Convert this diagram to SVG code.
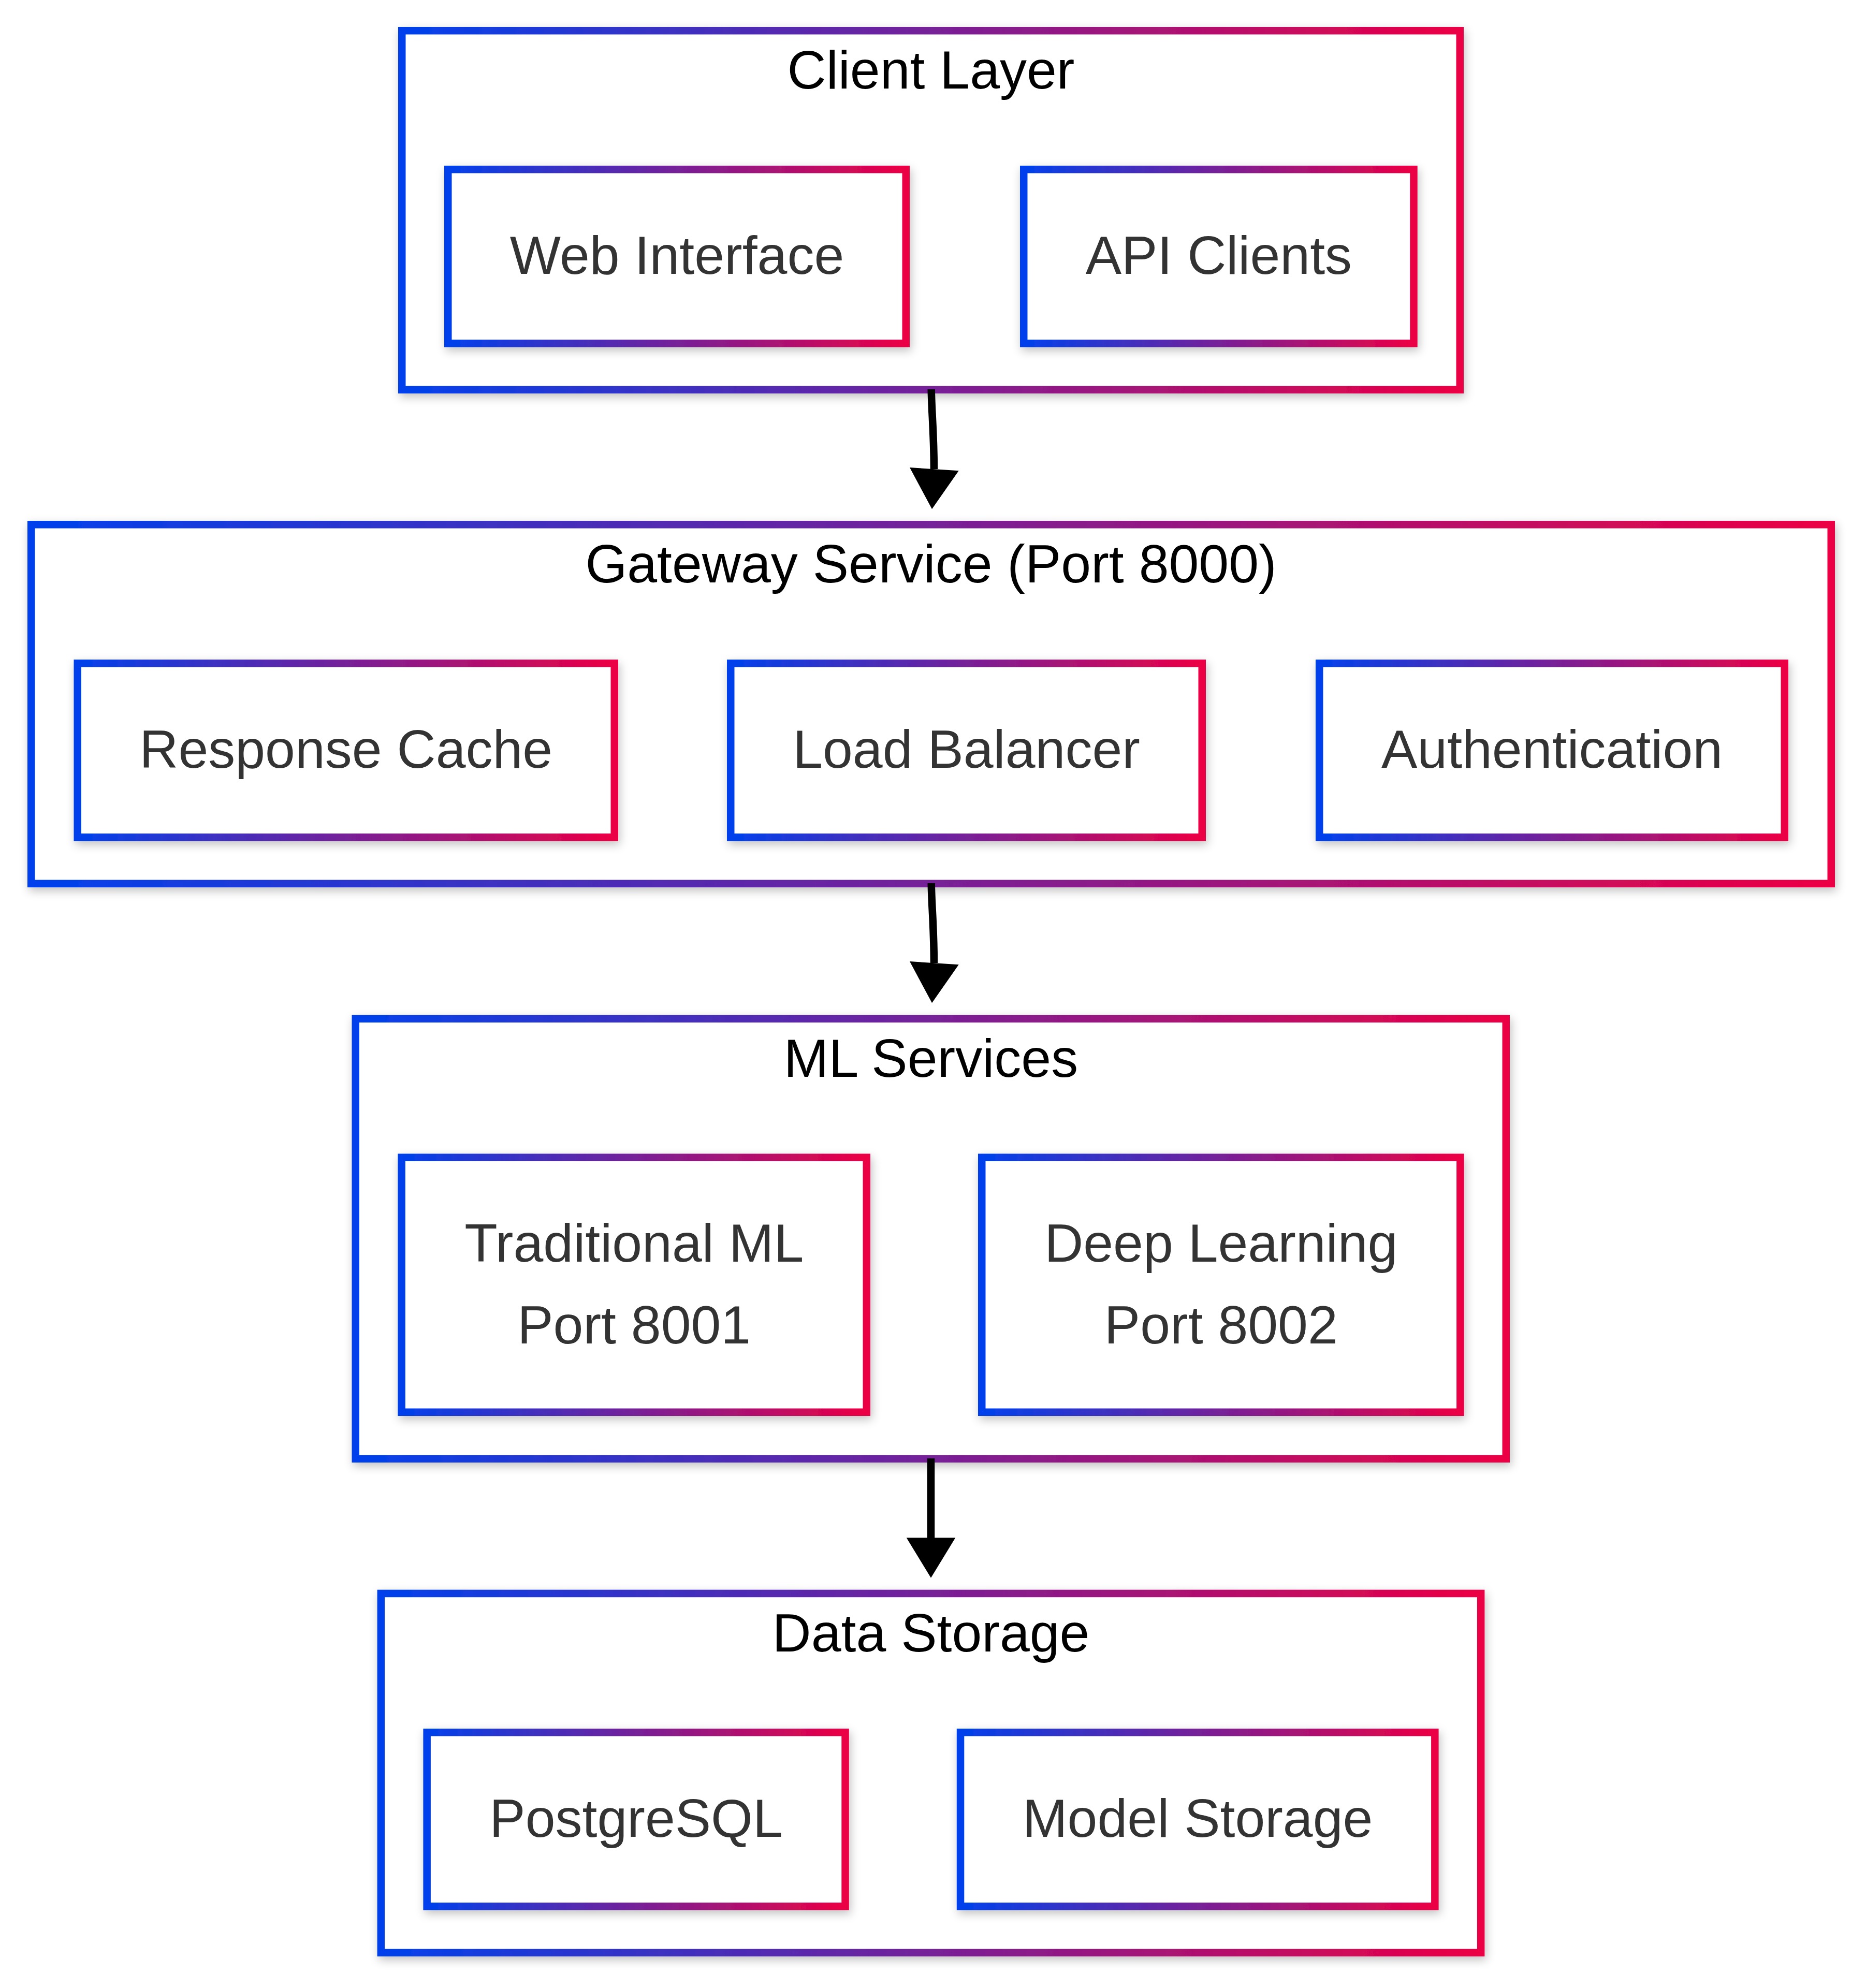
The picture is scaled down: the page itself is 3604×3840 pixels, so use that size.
<svg xmlns="http://www.w3.org/2000/svg" width="3604" height="3840" viewBox="0 0 3604 3840">
<defs>
<linearGradient id="grad" x1="0" y1="0" x2="1" y2="0" gradientUnits="objectBoundingBox">
<stop offset="0" stop-color="#0041ec"/>
<stop offset="1" stop-color="#ec0044"/>
</linearGradient>
<filter id="shadow" x="-10%" y="-10%" width="120%" height="130%">
<feDropShadow dx="3" dy="7" stdDeviation="9" flood-color="#000" flood-opacity="0.24"/>
</filter>
</defs>
<style>
.box{fill:#ffffff;stroke:url(#grad);stroke-width:14.5;filter:url(#shadow);}
.title{font-family:"Liberation Sans",Arial,Helvetica,sans-serif;font-size:104px;fill:#000000;text-anchor:middle;}
.label{font-family:"Liberation Sans",Arial,Helvetica,sans-serif;font-size:104px;fill:#333333;text-anchor:middle;}
.edge{fill:none;stroke:#000000;stroke-width:14.5;}
.head{fill:#000000;stroke:none;}
</style>
<rect x="0" y="0" width="3604" height="3840" fill="#ffffff"/>

<g id="cluster-client">
<rect class="box" x="776.25" y="59.25" width="2043.5" height="693.5"/>
<text class="title" x="1798" y="171">Client Layer</text>
</g>
<g id="cluster-gateway">
<rect class="box" x="60.25" y="1013.25" width="3476.5" height="693.5"/>
<text class="title" x="1798" y="1125">Gateway Service (Port 8000)</text>
</g>
<g id="cluster-ml">
<rect class="box" x="686.75" y="1967.85" width="2222" height="849.9"/>
<text class="title" x="1798" y="2080">ML Services</text>
</g>
<g id="cluster-data">
<rect class="box" x="735.85" y="3077.95" width="2124.3" height="693.8"/>
<text class="title" x="1798" y="3190">Data Storage</text>
</g>

<g id="connectors">
<path class="edge" d="M1798.7,752 C1799.5,800 1803.5,830 1804,906"/>
<polygon class="head" points="1757,903 1851.7,909.3 1800,983.3"/>
<path class="edge" d="M1798.7,1706 C1799.5,1754 1803.5,1784 1804,1860"/>
<polygon class="head" points="1757,1857 1851.7,1863.3 1800,1937.3"/>
<path class="edge" d="M1798,2817 L1798,2973"/>
<polygon class="head" points="1750.7,2970.3 1845.3,2970.3 1798,3047.7"/>
</g>

<g id="node-web">
<rect class="box" x="865.25" y="327.25" width="884.5" height="336"/>
<text class="label" x="1307.5" y="529">Web Interface</text>
</g>
<g id="node-api">
<rect class="box" x="1977.25" y="327.25" width="753.2" height="336"/>
<text class="label" x="2353.85" y="529">API Clients</text>
</g>

<g id="node-cache">
<rect class="box" x="149.75" y="1281.25" width="1037" height="336"/>
<text class="label" x="668.25" y="1483">Response Cache</text>
</g>
<g id="node-lb">
<rect class="box" x="1411.25" y="1281.25" width="910.5" height="336"/>
<text class="label" x="1866.5" y="1483">Load Balancer</text>
</g>
<g id="node-auth">
<rect class="box" x="2548.25" y="1281.25" width="898.5" height="336"/>
<text class="label" x="2997.5" y="1483">Authentication</text>
</g>

<g id="node-trad">
<rect class="box" x="775.65" y="2235.75" width="898.1" height="492"/>
<text class="label" x="1224.7" y="2437">Traditional ML</text>
<text class="label" x="1224.7" y="2594.5">Port 8001</text>
</g>
<g id="node-deep">
<rect class="box" x="1896.25" y="2235.75" width="924.1" height="492"/>
<text class="label" x="2358.3" y="2437">Deep Learning</text>
<text class="label" x="2358.3" y="2594.5">Port 8002</text>
</g>

<g id="node-pg">
<rect class="box" x="824.65" y="3346.25" width="807.9" height="336"/>
<text class="label" x="1228.6" y="3548">PostgreSQL</text>
</g>
<g id="node-model">
<rect class="box" x="1855.05" y="3346.25" width="916.3" height="336"/>
<text class="label" x="2313.2" y="3548">Model Storage</text>
</g>
</svg>
